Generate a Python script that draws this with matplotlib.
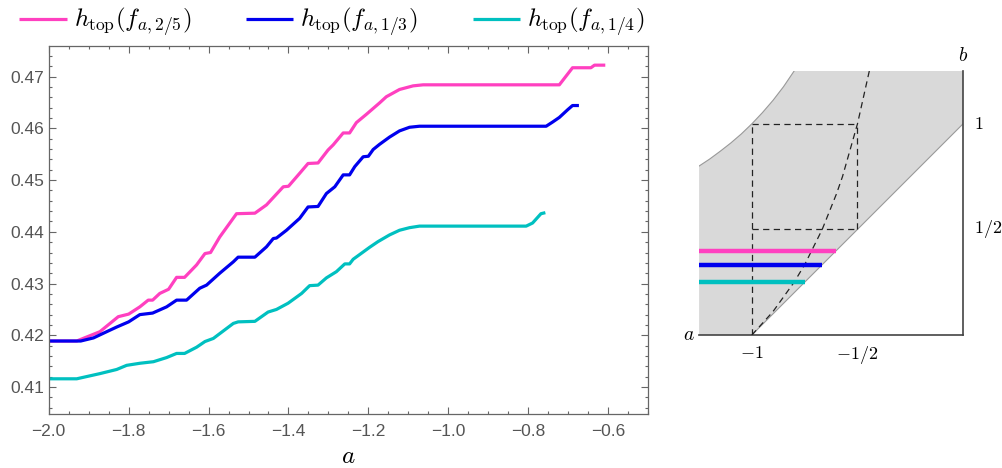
import matplotlib
matplotlib.use("Agg")
import matplotlib.pyplot as plt
from matplotlib.ticker import MultipleLocator

plt.rcParams["mathtext.fontset"] = "cm"

# entropy curves: (a, h_top)
a_25 = [-2.0, -1.93, -1.872, -1.826, -1.80, -1.772, -1.751, -1.74, -1.722, -1.70, -1.68, -1.66,
        -1.63, -1.609, -1.595, -1.572, -1.53, -1.484, -1.455, -1.413, -1.40, -1.372, -1.351, -1.326,
        -1.301, -1.288, -1.263, -1.247, -1.23, -1.205, -1.172, -1.155, -1.122, -1.088, -1.063,
        -0.722, -0.689, -0.643, -0.634, -0.607]
h_25 = [0.4189, 0.4189, 0.4207, 0.4236, 0.4241, 0.4255, 0.4268, 0.4268, 0.4281, 0.4289, 0.4312, 0.4312,
        0.4336, 0.4358, 0.4360, 0.4390, 0.4435, 0.4436, 0.4452, 0.4487, 0.4488, 0.4513, 0.4532, 0.4533,
        0.4558, 0.4568, 0.4591, 0.4591, 0.4611, 0.4627, 0.4649, 0.4661, 0.4675, 0.4682, 0.4684,
        0.4684, 0.4717, 0.4717, 0.4722, 0.4722]

a_13 = [-2.0, -1.92, -1.888, -1.855, -1.83, -1.80, -1.772, -1.74, -1.705, -1.68, -1.655, -1.622,
        -1.605, -1.572, -1.538, -1.526, -1.484, -1.455, -1.438, -1.43, -1.405, -1.372, -1.351, -1.326,
        -1.305, -1.284, -1.263, -1.247, -1.234, -1.213, -1.20, -1.188, -1.172, -1.147, -1.122, -1.097,
        -1.072, -0.755, -0.739, -0.722, -0.701, -0.689, -0.673]
h_13 = [0.4189, 0.4189, 0.4195, 0.4207, 0.4216, 0.4226, 0.4240, 0.4243, 0.4255, 0.4268, 0.4268, 0.4291,
        0.4297, 0.4320, 0.4342, 0.4351, 0.4351, 0.4371, 0.4387, 0.4388, 0.4403, 0.4426, 0.4448, 0.4449,
        0.4474, 0.4487, 0.4510, 0.4510, 0.4526, 0.4545, 0.4546, 0.4559, 0.4569, 0.4583, 0.4595, 0.4602,
        0.4604, 0.4604, 0.4612, 0.4621, 0.4636, 0.4644, 0.4644]

a_14 = [-2.0, -1.93, -1.872, -1.83, -1.805, -1.772, -1.738, -1.705, -1.68, -1.66, -1.63, -1.609,
        -1.588, -1.538, -1.526, -1.484, -1.451, -1.43, -1.401, -1.367, -1.347, -1.326, -1.305, -1.28,
        -1.259, -1.247, -1.238, -1.213, -1.197, -1.176, -1.147, -1.122, -1.097, -1.072, -0.805, -0.789,
        -0.768, -0.757]
h_14 = [0.4116, 0.4116, 0.4126, 0.4134, 0.4142, 0.4146, 0.4149, 0.4157, 0.4165, 0.4165, 0.4177, 0.4188,
        0.4194, 0.4223, 0.4226, 0.4227, 0.4245, 0.4250, 0.4262, 0.4281, 0.4296, 0.4297, 0.4311, 0.4323,
        0.4338, 0.4338, 0.4347, 0.4361, 0.4370, 0.4381, 0.4394, 0.4403, 0.4408, 0.4411, 0.4411, 0.4417,
        0.4435, 0.4437]

labels = [r"$h_{\mathrm{top}}(f_{a,2/5})$", r"$h_{\mathrm{top}}(f_{a,1/3})$", r"$h_{\mathrm{top}}(f_{a,1/4})$"]
colors = ["#ff40c0", "#0000ee", "#00c0c0"]
x_ticks = [-2.0, -1.8, -1.6, -1.4, -1.2, -1.0, -0.8, -0.6]
y_ticks = [0.41, 0.42, 0.43, 0.44, 0.45, 0.46, 0.47]

# schematic (a, b) parameter picture
upper_a = [-1.25, -1.2, -1.15, -1.1, -1.05, -1.0, -0.95, -0.9, -0.85, -0.8]
upper_b = [0.80, 0.833, 0.870, 0.909, 0.952, 1.0, 1.053, 1.111, 1.176, 1.25]
lower_a = [-1.25, -1.0, 0.0]
lower_b = [0.0, 0.0, 1.0]
diag_a = [-1.0, -0.9, -0.8, -0.75, -0.667, -0.6, -0.571, -0.5, -0.444]
diag_b = [0.0, 0.111, 0.25, 0.333, 0.5, 0.667, 0.75, 1.0, 1.25]
strip_b = [2 / 5, 1 / 3, 1 / 4]

fig = plt.figure(figsize=(10.03, 4.68), dpi=100)
ax = fig.add_axes([0.0486, 0.1154, 0.5975, 0.7863])

for xs, ys, c, lab in zip([a_25, a_13, a_14], [h_25, h_13, h_14], colors, labels):
    ax.plot(xs, ys, color=c, lw=2.3, label=lab, solid_capstyle="butt")

ax.set_xlim(-2.0, -0.5)
ax.set_ylim(0.4048, 0.4759)
ax.set_xticks(x_ticks)
ax.set_yticks(y_ticks)
ax.set_xticklabels([f"{t:.1f}".replace("-", "\u2212") for t in x_ticks])
ax.set_yticklabels([f"{t:.2f}" for t in y_ticks])
ax.xaxis.set_minor_locator(MultipleLocator(0.05))
ax.yaxis.set_minor_locator(MultipleLocator(0.002))
ax.tick_params(which="both", direction="in", top=True, right=True, color="#666666",
               labelcolor="#555555", labelsize=12.5, width=0.8)
ax.tick_params(which="major", length=5)
ax.tick_params(which="minor", length=2.5)
ax.tick_params(axis="x", pad=7)
for lbl in ax.get_xticklabels() + ax.get_yticklabels():
    lbl.set_family("Liberation Sans")
for s in ax.spines.values():
    s.set_color("#666666")
    s.set_linewidth(0.9)
ax.set_xlabel(r"$a$", fontsize=18, labelpad=4)

fig.legend(loc="upper left", bbox_to_anchor=(0.004, 1.02), ncol=3, frameon=False, fontsize=18,
           handlelength=1.9, handletextpad=0.28, columnspacing=2.2, borderaxespad=0.2)

# right-hand schematic
ax2 = fig.add_axes([0.697, 0.2842, 0.2632, 0.5641])
ax2.set_xlim(-1.25, 0.0)
ax2.set_ylim(0.0, 1.25)
ax2.axis("off")

fill_a = upper_a + [0.0, 0.0] + lower_a[::-1]
fill_b = upper_b + [1.25, 1.0] + lower_b[::-1]
ax2.fill(fill_a, fill_b, color="#d9d9d9", lw=0)
ax2.plot(upper_a, upper_b, color="#999999", lw=0.8)
ax2.plot(lower_a[1:], lower_b[1:], color="#999999", lw=0.8)
ax2.plot([-1.25, 0.0], [0.0, 0.0], color="#444444", lw=1.2, clip_on=False)
ax2.plot([0.0, 0.0], [0.0, 1.25], color="#444444", lw=1.2, clip_on=False)

dash = dict(color="#222222", lw=0.9, ls=(0, (5, 3.5)))
ax2.plot([-1.0, -1.0], [0.0, 1.0], **dash)
ax2.plot([-1.0, -0.5], [1.0, 1.0], **dash)
ax2.plot([-0.5, -0.5], [0.5, 1.0], **dash)
ax2.plot([-1.0, -0.5], [0.5, 0.5], **dash)
ax2.plot(diag_a, diag_b, **dash)

for b, c in zip(strip_b, colors):
    ax2.plot([-1.25, b - 1.0], [b, b], color=c, lw=3.2, solid_capstyle="butt")

ax2.text(-1.27, 0.0, r"$a$", fontsize=14, ha="right", va="center")
ax2.text(0.0, 1.28, r"$b$", fontsize=14, ha="center", va="bottom")
ax2.text(0.05, 1.0, r"$1$", fontsize=13, ha="left", va="center")
ax2.text(0.05, 0.5, r"$1/2$", fontsize=13, ha="left", va="center")
ax2.text(-1.0, -0.045, r"$-1$", fontsize=13, ha="center", va="top")
ax2.text(-0.5, -0.045, r"$-1/2$", fontsize=13, ha="center", va="top")

fig.savefig("out.png", dpi=100)
